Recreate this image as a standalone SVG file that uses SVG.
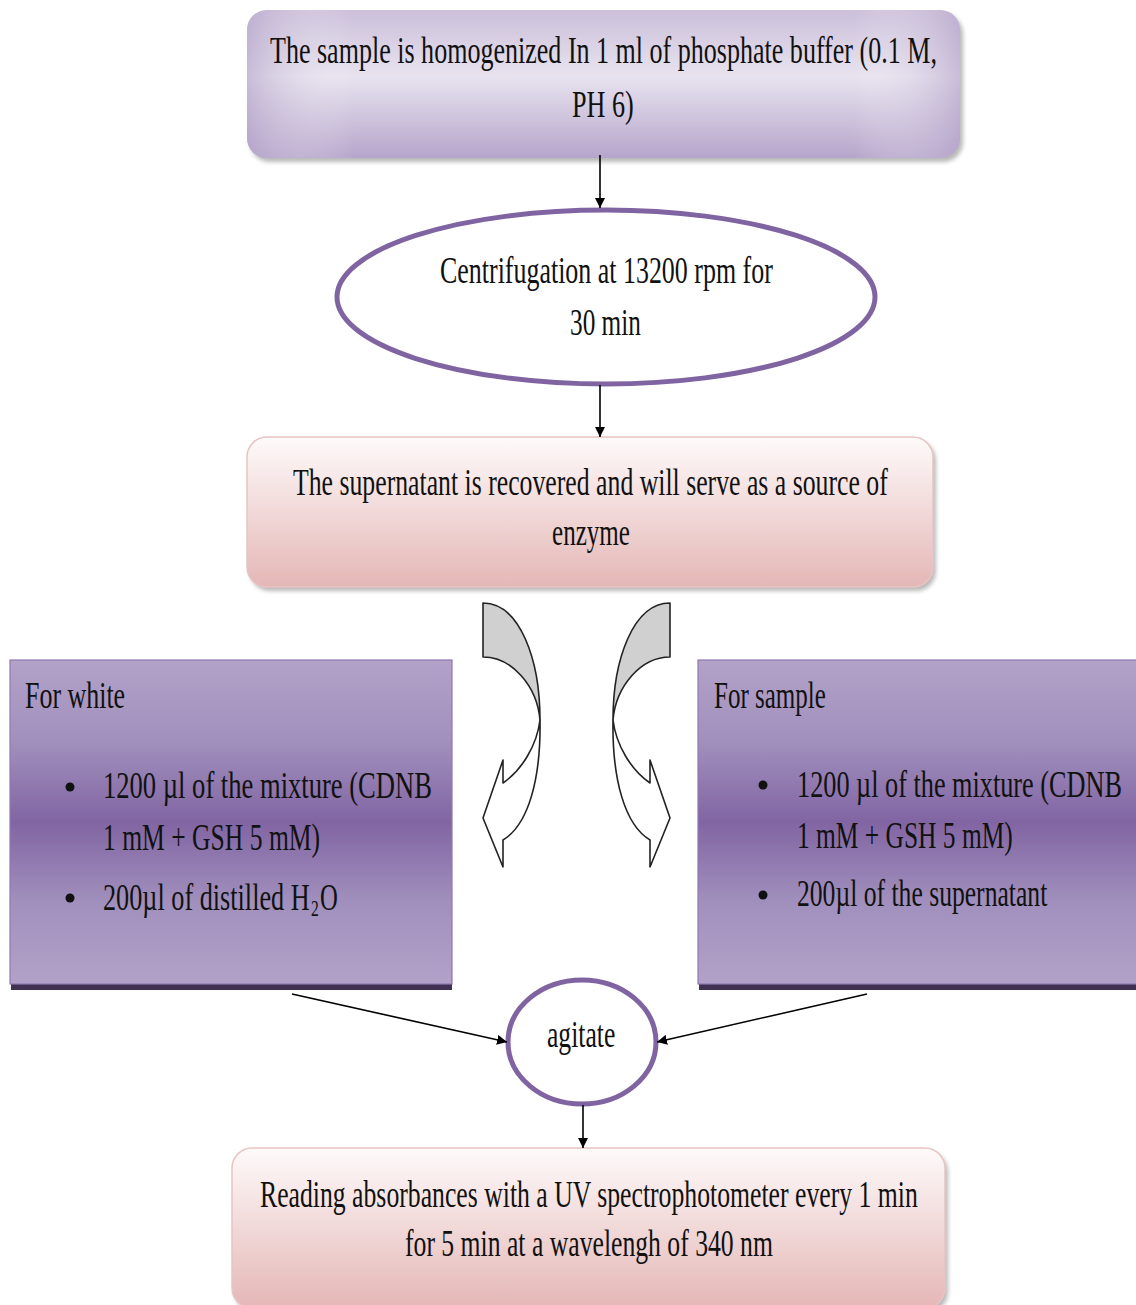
<svg xmlns="http://www.w3.org/2000/svg" width="1136" height="1305" viewBox="0 0 1136 1305">
<defs>
<linearGradient id="gPurpleLight" x1="0" y1="0" x2="0" y2="1">
<stop offset="0" stop-color="#cbbfda"/>
<stop offset="0.45" stop-color="#e8e3ef"/>
<stop offset="1" stop-color="#b6a5cb"/>
</linearGradient>
<linearGradient id="gPurpleSide" x1="0" y1="0" x2="1" y2="0">
<stop offset="0" stop-color="#b3a2c8" stop-opacity="0.6"/>
<stop offset="0.15" stop-color="#ffffff" stop-opacity="0"/>
<stop offset="0.85" stop-color="#ffffff" stop-opacity="0"/>
<stop offset="1" stop-color="#b3a2c8" stop-opacity="0.6"/>
</linearGradient>
<linearGradient id="gPink" x1="0" y1="0" x2="0" y2="1">
<stop offset="0" stop-color="#fefafa"/>
<stop offset="1" stop-color="#e4b7b6"/>
</linearGradient>
<linearGradient id="gPurpleBox" x1="0" y1="0" x2="0" y2="1">
<stop offset="0" stop-color="#b2a2c8"/>
<stop offset="0.25" stop-color="#a190bd"/>
<stop offset="0.5" stop-color="#8165a3"/>
<stop offset="0.75" stop-color="#a190bd"/>
<stop offset="1" stop-color="#b2a2c8"/>
</linearGradient>
<marker id="arr" viewBox="0 0 10 10" refX="10" refY="5" markerWidth="10" markerHeight="10" markerUnits="userSpaceOnUse" orient="auto">
<path d="M0,0 L10,5 L0,10 Z" fill="#000"/>
</marker>
<filter id="sh" x="-5%" y="-5%" width="110%" height="120%">
<feGaussianBlur stdDeviation="2"/>
</filter>
</defs>
<style>
text{font-family:"Liberation Serif","Times New Roman",serif;font-size:38px;fill:#111}
.sub{font-size:24px}
.conn{stroke:#000;stroke-width:1.6;fill:none;marker-end:url(#arr)}
.ring{fill:#fff;stroke:#8064a2;stroke-width:5}
.cur{stroke:#222;stroke-width:1.6;stroke-linejoin:round}
</style>

<g id="node-homogenize">
<rect x="250" y="14" width="713" height="148" rx="20" fill="#8a8a8a" opacity="0.6" filter="url(#sh)"/>
<rect x="247" y="10" width="713" height="148" rx="20" fill="url(#gPurpleLight)"/>
<rect x="247" y="10" width="713" height="148" rx="20" fill="url(#gPurpleSide)"/>
<text transform="translate(270,63) scale(0.65,1)" textLength="1026" lengthAdjust="spacingAndGlyphs">The sample is homogenized In 1 ml of phosphate  buffer (0.1 M,</text>
<text transform="translate(572,117) scale(0.65,1)" textLength="95" lengthAdjust="spacingAndGlyphs">PH 6)</text>
</g>

<g id="node-centrifugation">
<ellipse cx="606" cy="297" rx="269" ry="87" class="ring"/>
<text transform="translate(440,283) scale(0.65,1)" textLength="512" lengthAdjust="spacingAndGlyphs">Centrifugation at 13200 rpm for</text>
<text transform="translate(570,335) scale(0.65,1)" textLength="109" lengthAdjust="spacingAndGlyphs">30 min</text>
</g>

<g id="node-supernatant">
<rect x="250" y="441" width="686" height="150" rx="20" fill="#8a8a8a" opacity="0.6" filter="url(#sh)"/>
<rect x="247" y="437" width="686" height="150" rx="20" fill="url(#gPink)" stroke="#e8c4c3" stroke-width="1.5"/>
<text transform="translate(293,495) scale(0.65,1)" textLength="915" lengthAdjust="spacingAndGlyphs">The supernatant is recovered and will serve as a source of</text>
<text transform="translate(552,545) scale(0.65,1)" textLength="120" lengthAdjust="spacingAndGlyphs">enzyme</text>
</g>

<g id="node-split-arrows">
<g id="curved-left">
<path class="cur" fill="#d0d0d0" d="M483,603 C520,603 540,660 540,720 C537,686 512,657 483,657 Z"/>
<path class="cur" fill="#fff" d="M540,720 C541,780 528,825 503,840 L503,867 L483,818 L503,760 L503,783 C522,770 537,745 540,720 Z"/>
</g>
<g id="curved-right" transform="translate(1153,0) scale(-1,1)">
<path class="cur" fill="#d0d0d0" d="M483,603 C520,603 540,660 540,720 C537,686 512,657 483,657 Z"/>
<path class="cur" fill="#fff" d="M540,720 C541,780 528,825 503,840 L503,867 L483,818 L503,760 L503,783 C522,770 537,745 540,720 Z"/>
</g>
</g>

<g id="node-white">
<rect x="11" y="983" width="441" height="7" fill="#3f3151"/>
<rect x="10" y="660" width="442" height="324" fill="url(#gPurpleBox)" stroke="#8f78b0" stroke-width="1.2"/>
<text transform="translate(25,708) scale(0.65,1)" textLength="154" lengthAdjust="spacingAndGlyphs">For white</text>
<circle cx="70" cy="787" r="4.5" fill="#111"/>
<text transform="translate(103,798) scale(0.65,1)" textLength="506" lengthAdjust="spacingAndGlyphs">1200 µl of the mixture (CDNB</text>
<text transform="translate(103,850) scale(0.65,1)" textLength="334" lengthAdjust="spacingAndGlyphs">1 mM + GSH 5 mM)</text>
<circle cx="70" cy="898" r="4.5" fill="#111"/>
<text transform="translate(103,910) scale(0.65,1)" textLength="318" lengthAdjust="spacingAndGlyphs">200µl of distilled H</text>
<text class="sub" transform="translate(311,916) scale(0.65,1)">2</text>
<text transform="translate(320,910) scale(0.65,1)">O</text>
</g>

<g id="node-sample">
<rect x="699" y="983" width="437" height="7" fill="#3f3151"/>
<rect x="698" y="660" width="440" height="324" fill="url(#gPurpleBox)" stroke="#8f78b0" stroke-width="1.2"/>
<text transform="translate(714,708) scale(0.65,1)" textLength="172" lengthAdjust="spacingAndGlyphs">For sample</text>
<circle cx="763" cy="785" r="4.5" fill="#111"/>
<text transform="translate(797,797) scale(0.65,1)" textLength="500" lengthAdjust="spacingAndGlyphs">1200 µl of  the mixture (CDNB</text>
<text transform="translate(797,848) scale(0.65,1)" textLength="332" lengthAdjust="spacingAndGlyphs">1 mM + GSH 5 mM)</text>
<circle cx="763" cy="895" r="4.5" fill="#111"/>
<text transform="translate(797,906) scale(0.65,1)" textLength="385" lengthAdjust="spacingAndGlyphs">200µl of the supernatant</text>
</g>

<g id="node-agitate">
<ellipse cx="582" cy="1042" rx="74" ry="62" class="ring"/>
<text transform="translate(547,1047) scale(0.65,1)" textLength="105" lengthAdjust="spacingAndGlyphs">agitate</text>
</g>

<g id="node-reading">
<rect x="235" y="1152" width="713" height="160" rx="20" fill="#8a8a8a" opacity="0.6" filter="url(#sh)"/>
<rect x="232" y="1148" width="713" height="160" rx="20" fill="url(#gPink)" stroke="#e8c4c3" stroke-width="1.5"/>
<text transform="translate(260,1207) scale(0.65,1)" textLength="1012" lengthAdjust="spacingAndGlyphs">Reading absorbances with a UV spectrophotometer every 1 min</text>
<text transform="translate(405,1256) scale(0.65,1)" textLength="566" lengthAdjust="spacingAndGlyphs">for 5 min at a wavelengh of 340 nm</text>
</g>

<g id="connectors">
<line class="conn" x1="600" y1="155" x2="600" y2="208"/>
<line class="conn" x1="600" y1="385" x2="600" y2="437"/>
<line class="conn" x1="292" y1="994" x2="507" y2="1042"/>
<line class="conn" x1="867" y1="994" x2="657" y2="1042"/>
<line class="conn" x1="583" y1="1105" x2="583" y2="1148"/>
</g>
</svg>
